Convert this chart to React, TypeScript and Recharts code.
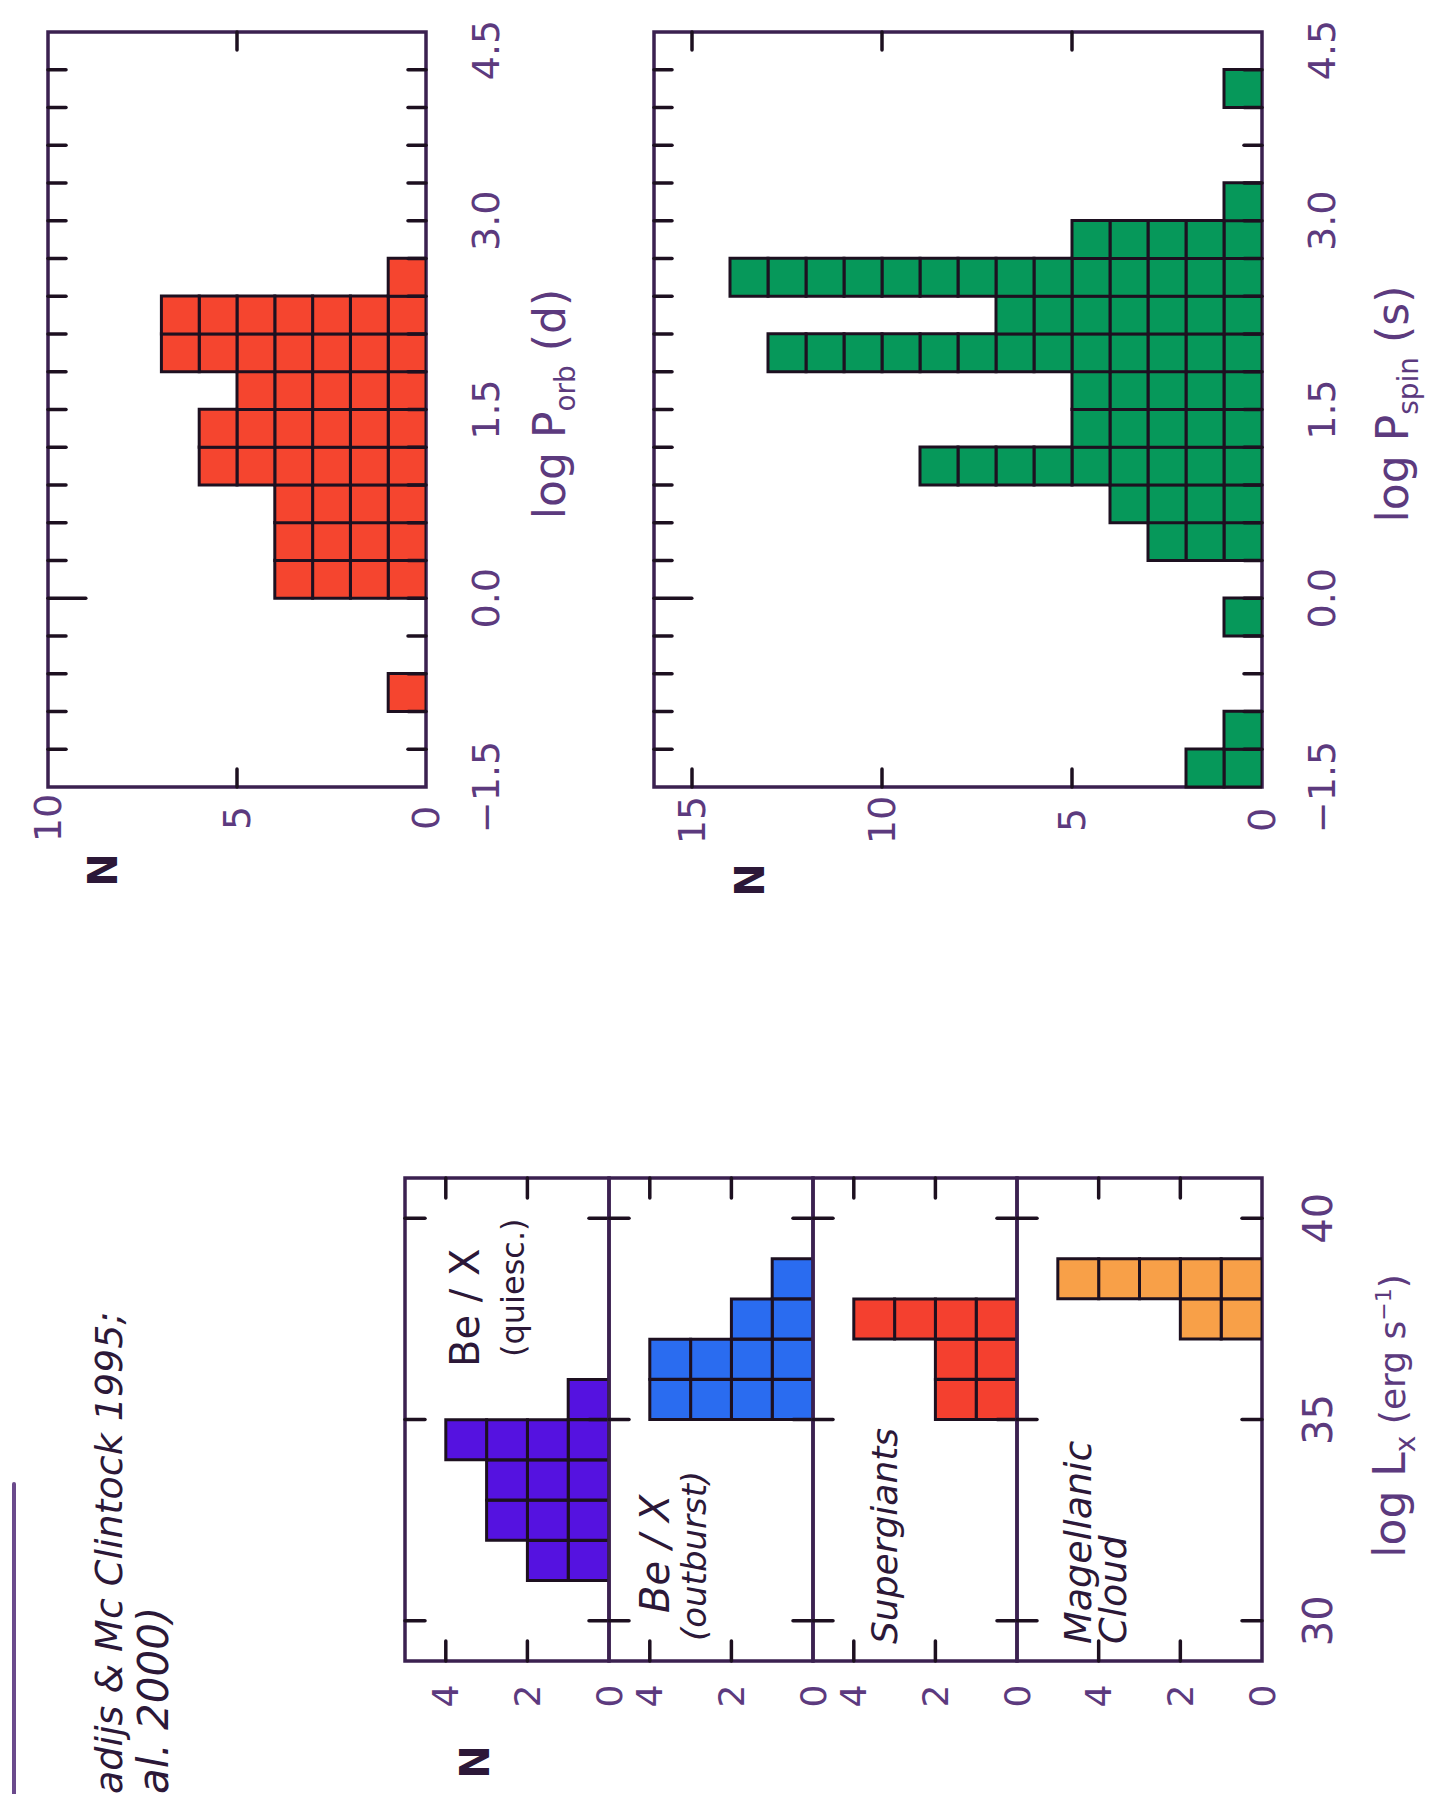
import React from "react";
import { BarChart, Bar, XAxis, YAxis, ReferenceArea } from "recharts";

// log P histograms: bins are 0.3 dex wide, lower edges listed
const periodBins = [-1.5, -1.2, -0.9, -0.6, -0.3, 0.0, 0.3, 0.6, 0.9, 1.2, 1.5, 1.8, 2.1, 2.4, 2.7, 3.0, 3.3, 3.6, 3.9, 4.2];
const periodEdges = [-1.5, -1.2, -0.9, -0.6, -0.3, 0.0, 0.3, 0.6, 0.9, 1.2, 1.5, 1.8, 2.1, 2.4, 2.7, 3.0, 3.3, 3.6, 3.9, 4.2, 4.5];
const periodLabels = [-1.5, 0.0, 1.5, 3.0, 4.5];
const orbCounts = [0, 0, 1, 0, 0, 4, 4, 4, 6, 6, 5, 7, 7, 1, 0, 0, 0, 0, 0, 0];
const spinCounts = [2, 1, 0, 0, 1, 0, 3, 4, 9, 5, 5, 13, 7, 14, 5, 1, 0, 0, 1, 0];
const orbNTicks = [0, 5, 10];
const spinNTicks = [0, 5, 10, 15];

// log Lx histograms: 1 dex bins, lower edges listed
const lxBins = [29, 30, 31, 32, 33, 34, 35, 36, 37, 38, 39, 40];
const lxTicks = [30, 35, 40];
const lxNTicks = [0, 2, 4];
const beQuiescCounts = [0, 0, 2, 3, 3, 4, 1, 0, 0, 0, 0, 0];
const beOutburstCounts = [0, 0, 0, 0, 0, 0, 4, 4, 2, 1, 0, 0];
const supergiantCounts = [0, 0, 0, 0, 0, 0, 2, 2, 4, 0, 0, 0];
const magellanicCounts = [0, 0, 0, 0, 0, 0, 0, 0, 2, 5, 0, 0];

const FRAME = "#3b2150";
const OUTLINE = "#1d1020";
const INK = "#5c3a7e";
const DARK = "#2c1838";
const FONT = "'DejaVu Sans', 'Liberation Sans', sans-serif";

type Box = { u: number; v: number; w: number; h: number };

const M = { top: 40, right: 40, bottom: 96, left: 72 };

const minus = (s: string) => s.replace("-", "\u2212");

type HistProps = {
  bins: number[];
  counts: number[];
  xDomain: [number, number];
  xTicks: number[];
  xLabels: number[];
  xMajor: number[];
  fmt: (v: number) => string;
  yMax: number;
  yTicks: number[];
  fill: string;
  box: Box;
  tickLen: number;
  xLabelGap: number;
  yLabelGap: number;
  xLabelSize: number;
  yLabelSize: number;
};

function Hist(props: HistProps) {
  const { bins, counts, xDomain, xTicks, xLabels, xMajor, fmt, yMax, yTicks, fill, box, tickLen, xLabelGap, yLabelGap, xLabelSize, yLabelSize } = props;
  const rows = bins.map((lo, i) => ({ bin: String(lo), lo, n: counts[i] }));
  const W = box.w + M.left + M.right;
  const H = box.h + M.top + M.bottom;
  const pl = M.left;
  const pr = M.left + box.w;
  const pt = M.top;
  const pb = M.top + box.h;

  const xTick = (p: any) => {
    const x = p.x;
    const val = p.payload.value;
    const inner = val > xDomain[0] && val < xDomain[1];
    const topLen = xMajor.includes(val) ? tickLen * 2.1 : tickLen;
    // the label at the far end sits a little inside, as in the hand-lettered original
    const lx = val === xDomain[1] ? x - 18 : x;
    return (
      <g>
        {inner && <line x1={x} x2={x} y1={pb} y2={pb - tickLen} stroke={OUTLINE} strokeWidth={3.5} strokeLinecap="round" />}
        {inner && <line x1={x} x2={x} y1={pt} y2={pt + topLen} stroke={OUTLINE} strokeWidth={3.5} strokeLinecap="round" />}
        {xLabels.includes(val) && (
          <text x={lx} y={pb + xLabelGap} textAnchor="middle" dominantBaseline="central" fontSize={xLabelSize} fill={INK} fontFamily={FONT}>
            {fmt(val)}
          </text>
        )}
      </g>
    );
  };

  const yTick = (p: any) => {
    const y = p.y;
    const val = p.payload.value;
    const inner = val > 0 && val < yMax;
    return (
      <g>
        {inner && <line x1={pl} x2={pl + tickLen} y1={y} y2={y} stroke={OUTLINE} strokeWidth={3.5} strokeLinecap="round" />}
        {inner && <line x1={pr} x2={pr - tickLen} y1={y} y2={y} stroke={OUTLINE} strokeWidth={3.5} strokeLinecap="round" />}
        <text x={pl - yLabelGap} y={y} textAnchor="middle" dominantBaseline="central" fontSize={yLabelSize} fill={INK} fontFamily={FONT}>
          {String(val)}
        </text>
      </g>
    );
  };

  const squares = (p: any) => {
    const n = p.payload?.n ?? 0;
    if (!n || !(p.height > 0)) return <g />;
    const unit = p.height / n;
    return (
      <g>
        {Array.from({ length: n }, (_, k) => (
          <rect key={k} x={p.x} y={p.y + p.height - (k + 1) * unit} width={p.width} height={unit} fill={fill} stroke={OUTLINE} strokeWidth={3} />
        ))}
      </g>
    );
  };

  return (
    <div style={{ position: "absolute", left: box.u - M.left, top: box.v - M.top, width: W, height: H }}>
      <BarChart width={W} height={H} data={rows} margin={M} barCategoryGap={0} barGap={0}>
        <XAxis xAxisId="bins" dataKey="bin" type="category" hide />
        <XAxis
          xAxisId="val"
          dataKey="lo"
          type="number"
          domain={xDomain}
          ticks={xTicks}
          interval={0}
          allowDataOverflow
          mirror
          axisLine={false}
          tickLine={false}
          tick={xTick}
        />
        <YAxis
          yAxisId="n"
          type="number"
          domain={[0, yMax]}
          ticks={yTicks}
          interval={0}
          allowDataOverflow
          mirror
          axisLine={false}
          tickLine={false}
          tick={yTick}
        />
        <Bar xAxisId="bins" yAxisId="n" dataKey="n" shape={squares} isAnimationActive={false} />
        <ReferenceArea
          xAxisId="val"
          yAxisId="n"
          x1={xDomain[0]}
          x2={xDomain[1]}
          y1={0}
          y2={yMax}
          fill="none"
          stroke={FRAME}
          strokeWidth={3.5}
          ifOverflow="visible"
        />
      </BarChart>
    </div>
  );
}

const orbBox: Box = { u: 1007, v: 48, w: 755, h: 378 };
const spinBox: Box = { u: 1007, v: 654, w: 755, h: 608 };
const lxBoxes: Box[] = [
  { u: 133, v: 405, w: 483, h: 204 },
  { u: 133, v: 609, w: 483, h: 204 },
  { u: 133, v: 813, w: 483, h: 204 },
  { u: 133, v: 1017, w: 483, h: 245 },
];

const periodFmt = (v: number) => minus(v.toFixed(1));
const lxFmt = (v: number) => String(v);

function Overlay() {
  return (
    <svg width={1794} height={1436} style={{ position: "absolute", left: 0, top: 0, pointerEvents: "none" }} fontFamily={FONT}>
      <line x1={0} y1={14} x2={310} y2={14} stroke="#6b4a8c" strokeWidth={4} strokeLinecap="round" />
      <text x={0} y={122} fontSize={38} fontStyle="italic" fill={DARK}>{"adijs & Mc Clintock 1995;"}</text>
      <text x={0} y={168} fontSize={42} fontStyle="italic" fill={DARK}>{"al. 2000)"}</text>

      <text x={1390} y={565} fontSize={44} textAnchor="middle" fill={INK}>
        log P<tspan fontSize={28} dy={10}>orb</tspan>
        <tspan dy={-10}> (d)</tspan>
      </text>
      <text x={1390} y={1408} fontSize={44} textAnchor="middle" fill={INK}>
        log P<tspan fontSize={28} dy={10}>spin</tspan>
        <tspan dy={-10}> (s)</tspan>
      </text>
      <text x={378} y={1405} fontSize={44} textAnchor="middle" fill={INK}>
        log L<tspan fontSize={28} dy={10}>x</tspan>
        <tspan fontSize={36} dy={-10}> (erg s</tspan>
        <tspan fontSize={22} dy={-14}>{"\u22121"}</tspan>
        <tspan fontSize={36} dy={14}>)</tspan>
      </text>

      <text x={924} y={117} fontSize={40} fontWeight="bold" textAnchor="middle" fill={DARK}>N</text>
      <text x={914} y={764} fontSize={40} fontWeight="bold" textAnchor="middle" fill={DARK}>N</text>
      <text x={32} y={489} fontSize={40} fontWeight="bold" textAnchor="middle" fill={DARK}>N</text>

      <text x={427} y={479} fontSize={40} fill={DARK}>Be / X</text>
      <text x={437} y={524} fontSize={32} fill={DARK}>(quiesc.)</text>
      <text x={181} y={669} fontSize={40} fontStyle="italic" fill={DARK}>Be / X</text>
      <text x={153} y={706} fontSize={34} fontStyle="italic" fill={DARK}>(outburst)</text>
      <text x={150} y={897} fontSize={36} fontStyle="italic" fill={DARK}>Supergiants</text>
      <text x={150} y={1091} fontSize={38} fontStyle="italic" fill={DARK}>Magellanic</text>
      <text x={150} y={1126} fontSize={38} fontStyle="italic" fill={DARK}>Cloud</text>
    </svg>
  );
}

const lxSeries = [
  { counts: beQuiescCounts, fill: "#5512e0", yMax: 5 },
  { counts: beOutburstCounts, fill: "#2a6cf0", yMax: 5 },
  { counts: supergiantCounts, fill: "#f4402f", yMax: 5 },
  { counts: magellanicCounts, fill: "#f8a048", yMax: 6 },
];

export default function App() {
  return (
    <div style={{ position: "absolute", left: 0, top: 0, width: 1436, height: 1794, overflow: "hidden", background: "#ffffff" }}>
      <div
        style={{
          position: "absolute",
          left: 0,
          top: 0,
          width: 1794,
          height: 1436,
          transformOrigin: "0 0",
          transform: "translateY(1794px) rotate(-90deg)",
        }}
      >
        <Hist
          bins={periodBins}
          counts={orbCounts}
          xDomain={[-1.5, 4.5]}
          xTicks={periodEdges}
          xLabels={periodLabels}
          xMajor={[0]}
          fmt={periodFmt}
          yMax={10}
          yTicks={orbNTicks}
          fill="#f5452f"
          box={orbBox}
          tickLen={18}
          xLabelGap={60}
          yLabelGap={31}
          xLabelSize={38}
          yLabelSize={38}
        />
        <Hist
          bins={periodBins}
          counts={spinCounts}
          xDomain={[-1.5, 4.5]}
          xTicks={periodEdges}
          xLabels={periodLabels}
          xMajor={[0]}
          fmt={periodFmt}
          yMax={16}
          yTicks={spinNTicks}
          fill="#06985a"
          box={spinBox}
          tickLen={18}
          xLabelGap={60}
          yLabelGap={33}
          xLabelSize={38}
          yLabelSize={38}
        />
        {lxSeries.map((s, i) => (
          <Hist
            key={i}
            bins={lxBins}
            counts={s.counts}
            xDomain={[29, 41]}
            xTicks={lxTicks}
            xLabels={i === lxSeries.length - 1 ? lxTicks : []}
            xMajor={[]}
            fmt={lxFmt}
            yMax={s.yMax}
            yTicks={lxNTicks}
            fill={s.fill}
            box={lxBoxes[i]}
            tickLen={20}
            xLabelGap={56}
            yLabelGap={35}
            xLabelSize={40}
            yLabelSize={36}
          />
        ))}
        <Overlay />
      </div>
    </div>
  );
}
